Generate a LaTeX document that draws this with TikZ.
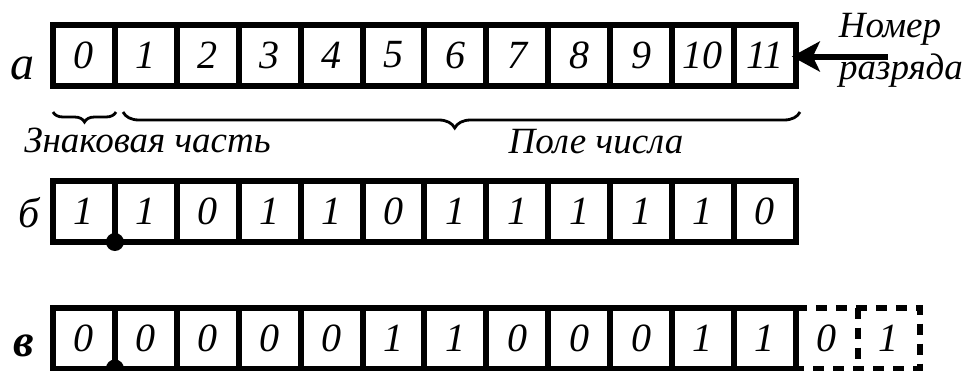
\documentclass[tikz,border=0pt]{standalone}
\usepackage{fontspec}
\setmainfont{Liberation Serif}
\usetikzlibrary{arrows.meta,decorations.pathreplacing}
\begin{document}
\begin{tikzpicture}[x=1pt,y=-1pt,
  cellbox/.style={draw, line width=6pt, minimum width=61.9pt, minimum height=61pt,
    inner sep=0pt, outer sep=0pt, font=\fontsize{40}{40}\selectfont\itshape},
  dcellbox/.style={minimum width=61.9pt, minimum height=61pt,
    inner sep=0pt, outer sep=0pt, font=\fontsize{40}{40}\selectfont\itshape},
  dashline/.style={line width=6pt, dash pattern=on 11pt off 9pt},
  bracestyle/.style={line width=2.8pt, decorate},
  lbl/.style={anchor=base, inner sep=0pt, font=\fontsize{37}{37}\selectfont\itshape},
  rowlbl/.style={anchor=base, inner sep=0pt},
  bigarrow/.style={line width=6pt, -{Stealth[length=28pt,width=30pt,inset=7pt]}},
  dotstyle/.style={fill=black}
]
\useasboundingbox (0,0) rectangle (970,370);

% row a
\foreach \i in {0,1,...,11}{
  \node[cellbox] (a\i) at ({83.95+61.9*\i},55) {\i};
}
% row b
\foreach \t [count=\j from 0] in {1,1,0,1,1,0,1,1,1,1,1,0}{
  \node[cellbox] (b\j) at ({83.95+61.9*\j},211.5) {\t};
}
% row c
\foreach \t [count=\j from 0] in {0,0,0,0,0,1,1,0,0,0,1,1}{
  \node[cellbox] (c\j) at ({83.95+61.9*\j},338) {\t};
}
\node[dcellbox] (c12) at ({83.95+61.9*12},338) {0};
\node[dcellbox] (c13) at ({83.95+61.9*13},338) {1};
\draw[dashline] (c11.north east) -- (c13.north east) -- (c13.south east) -- (c11.south east);
\draw[dashline] (c12.north east) -- (c12.south east);

% dots
\fill[dotstyle] (b0.south east) circle (9pt);
\fill[dotstyle] (c0.south east) circle (9pt);

% row labels
\node[rowlbl, font=\fontsize{48}{48}\selectfont\itshape] (la) at (22.5,79) {а};
\node[rowlbl, font=\fontsize{42}{42}\selectfont\itshape] (lb) at (29,227) {б};
\node[rowlbl, font=\fontsize{46}{46}\selectfont\bfseries\itshape] (lc) at (24,356) {в};

% braces
\coordinate (sbL) at (53,112);
\coordinate (sbR) at (116,112);
\coordinate (bbL) at (123,112);
\coordinate (bbR) at (800,112);
\draw[bracestyle, decoration={brace, mirror, amplitude=10pt}] (sbL) -- (sbR);
\draw[bracestyle, decoration={brace, mirror, amplitude=16pt, aspect=0.49}] (bbL) -- (bbR);

\node[lbl] (zn) at (147.5,152) {Знаковая часть};
\node[lbl] (pc) at (596,153) {Поле числа};

% arrow and label
\node[lbl] (nm) at (890,37) {Номер};
\node[lbl] (rz) at (901,79) {разряда};
\coordinate (arrS) at (888,56.5);
\draw[bigarrow, shorten >=-4pt] (arrS) -- (a11.east |- arrS);
\end{tikzpicture}
\end{document}
